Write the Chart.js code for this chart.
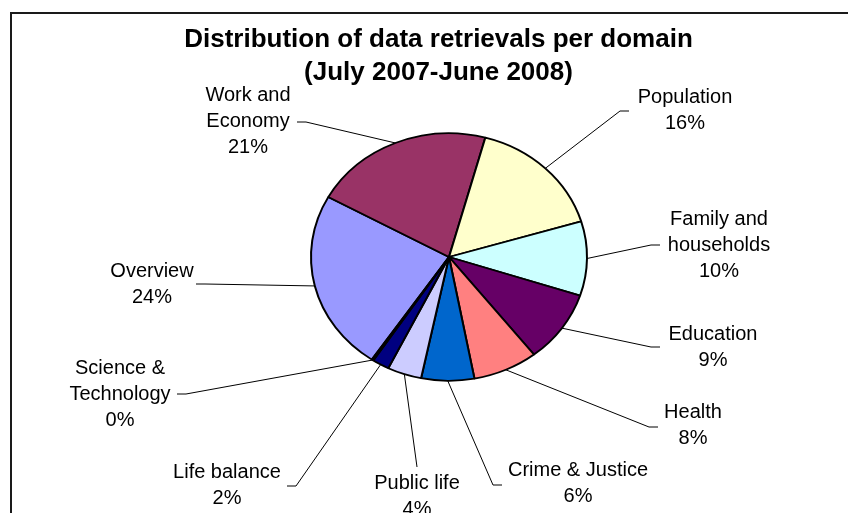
<!DOCTYPE html>
<html>
<head>
<meta charset="utf-8">
<title>Distribution of data retrievals per domain</title>
<script src="https://cdn.jsdelivr.net/npm/chart.js@4.4.0/dist/chart.umd.min.js"></script>
<style>
  html, body { margin: 0; padding: 0; background: #fff; }
  #wrap { width: 848px; height: 513px; position: relative; }
</style>
</head>
<body>
<div id="wrap"><canvas id="myChart"></canvas></div>
<script>
// domains, in the order the slices go round (clockwise)
const domains = [
  ["Overview"],
  ["Work and", "Economy"],
  ["Population"],
  ["Family and", "households"],
  ["Education"],
  ["Health"],
  ["Crime & Justice"],
  ["Public life"],
  ["Life balance"],
  ["Science &", "Technology"]
];

// share of the data retrievals, in %
const retrievals = [23.6, 21.2, 16.1, 9.7, 9.4, 7.6, 6.2, 4.0, 2.0, 0.2];

const sliceColors = ["#9999FF", "#993366", "#FFFFCC", "#CCFFFF", "#660066",
                     "#FF8080", "#0066CC", "#CCCCFF", "#000080", "#FF00FF"];

const titleLines = ["Distribution of data retrievals per domain", "(July 2007-June 2008)"];

// where each label goes: x = centre of the text, y = first line,
// ax/ay = where the leader line meets the text, side = direction of the small stub
const labelPlaces = [
  { x: 152, y: 271, ax: 196, ay: 284, side: "right" },
  { x: 248, y: 95,  ax: 297, ay: 122, side: "right" },
  { x: 685, y: 97,  ax: 629, ay: 111, side: "left" },
  { x: 719, y: 219, ax: 660, ay: 245, side: "left" },
  { x: 713, y: 334, ax: 660, ay: 347, side: "left" },
  { x: 693, y: 412, ax: 658, ay: 427, side: "left" },
  { x: 578, y: 470, ax: 502, ay: 485, side: "left" },
  { x: 417, y: 483, ax: 417, ay: 467, side: "top" },
  { x: 227, y: 472, ax: 287, ay: 486, side: "right" },
  { x: 120, y: 368, ax: 177, ay: 394, side: "right" }
];

const fontFamily = "'Liberation Sans', Arial, sans-serif";
const pieSquash = 0.897;   // the pie is a bit flatter than a circle
const pieShiftX = 10.5;    // pie sits a little right of the title centre

// frame round the chart (left and top edge only, the rest is cut off)
const framePlugin = {
  id: "frame",
  beforeDraw(chart) {
    const ctx = chart.ctx;
    ctx.save();
    ctx.strokeStyle = "#1a1a1a";
    ctx.lineWidth = 2;
    ctx.beginPath();
    ctx.moveTo(11, chart.height);
    ctx.lineTo(11, 13);
    ctx.lineTo(chart.width, 13);
    ctx.stroke();
    ctx.restore();
  }
};

// squash the pie into an ellipse
const squashPlugin = {
  id: "squashPie",
  beforeDatasetsDraw(chart) {
    const arc = chart.getDatasetMeta(0).data[0];
    const ctx = chart.ctx;
    ctx.save();
    ctx.translate(arc.x + pieShiftX, arc.y);
    ctx.scale(1, pieSquash);
    ctx.translate(-arc.x, -arc.y);
  },
  afterDatasetsDraw(chart) {
    chart.ctx.restore();
  }
};

// labels with leader lines, Excel style
const leaderPlugin = {
  id: "leaderLabels",
  afterDraw(chart) {
    const ctx = chart.ctx;
    const meta = chart.getDatasetMeta(0);
    const values = chart.data.datasets[0].data;
    const total = values.reduce((a, b) => a + b, 0);
    ctx.save();
    meta.data.forEach((arc, i) => {
      const place = labelPlaces[i];
      const mid = (arc.startAngle + arc.endAngle) / 2;
      const px = arc.x + pieShiftX + Math.cos(mid) * arc.outerRadius;
      const py = arc.y + Math.sin(mid) * arc.outerRadius * pieSquash;
      let ex = place.ax;
      if (place.side == "left") ex = place.ax - 9;
      if (place.side == "right") ex = place.ax + 9;

      ctx.beginPath();
      ctx.moveTo(px, py);
      ctx.lineTo(ex, place.ay);
      ctx.lineTo(place.ax, place.ay);
      ctx.strokeStyle = "#000";
      ctx.lineWidth = 1;
      ctx.stroke();

      const lines = chart.data.labels[i].concat([Math.round(values[i] * 100 / total) + "%"]);
      ctx.font = "20px " + fontFamily;
      ctx.fillStyle = "#000";
      ctx.textAlign = "center";
      ctx.textBaseline = "middle";
      lines.forEach((t, j) => ctx.fillText(t, place.x, place.y + j * 26));
    });
    ctx.restore();
  }
};

const ctx = document.getElementById("myChart").getContext("2d");
const myChart = new Chart(ctx, {
  type: "pie",
  data: {
    labels: domains,
    datasets: [{
      data: retrievals,
      backgroundColor: sliceColors,
      borderColor: "#000",
      borderWidth: 2,
      rotation: 214,
      radius: 138
    }]
  },
  options: {
    responsive: true,
    maintainAspectRatio: false,
    animation: false,
    layout: { padding: { left: 29, right: 0, top: 0, bottom: 88 } },
    plugins: {
      legend: { display: false },
      tooltip: { enabled: false },
      title: {
        display: true,
        text: titleLines,
        color: "#000",
        font: { family: fontFamily, size: 26, weight: "bold", lineHeight: 1.25 },
        padding: { top: 24, bottom: 0 }
      }
    }
  },
  plugins: [framePlugin, squashPlugin, leaderPlugin]
});
</script>
</body>
</html>
